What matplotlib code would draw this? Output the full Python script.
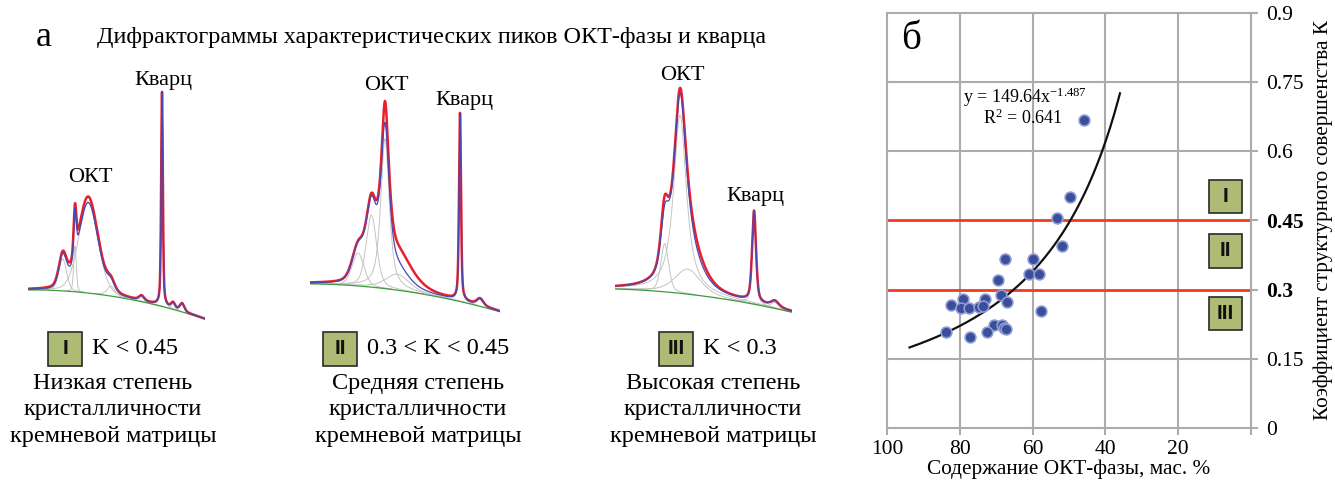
import numpy as np
import matplotlib
matplotlib.use('Agg')
import matplotlib.pyplot as plt
from matplotlib.patches import Rectangle

plt.rcParams['font.family'] = ['Liberation Serif', 'DejaVu Serif']
plt.rcParams['mathtext.fontset'] = 'custom'
plt.rcParams['mathtext.rm'] = 'Liberation Serif'
plt.rcParams['mathtext.it'] = 'Liberation Serif:italic'

# ---------------- data: panel б (scatter) ----------------
oct_content = [46.0, 49.7, 53.3, 51.8, 67.5, 59.9, 60.9, 58.2, 69.6, 68.7, 67.0,
               57.6, 79.0, 73.1, 82.4, 79.7, 77.5, 74.6, 73.7, 70.6, 68.4, 67.8,
               67.2, 72.5, 83.7, 77.3]
k_values = [0.668, 0.501, 0.455, 0.395, 0.367, 0.367, 0.334, 0.334, 0.322, 0.288,
            0.274, 0.254, 0.279, 0.279, 0.266, 0.261, 0.261, 0.262, 0.265, 0.224,
            0.224, 0.217, 0.215, 0.209, 0.209, 0.197]
fit_a = 149.64
fit_b = -1.487
fit_x_range = [93.8, 36.0]
k_limits = [0.3, 0.45]
x_ticks = [100, 80, 60, 40, 20, 0]
x_tick_labels = ['100', '80', '60', '40', '20', '']
y_ticks = [0, 0.15, 0.3, 0.45, 0.6, 0.75, 0.9]
y_tick_labels = ['0', '0.15', '0.3', '0.45', '0.6', '0.75', '0.9']
class_labels = ['I', 'II', 'III']
class_k_ranges = [(0.466, 0.538), (0.347, 0.421), (0.213, 0.284)]

# ---------------- data: panel а (diffractograms) ----------------
# peak position (deg 2theta), height above background, FWHM (deg), Lorentz fraction
d1_pos = [20.15, 20.95, 21.82, 23.3, 25.3, 26.64, 27.36, 27.95]
d1_height = [32, 46, 90, 10, 5, 214, 6, 8]
d1_fwhm = [0.6, 0.2, 1.5, 0.6, 0.4, 0.13, 0.3, 0.35]
d1_eta = [0.3, 0.3, 0.2, 0.5, 0.5, 0.5, 0.5, 0.5]
d1_base_x = [17.88, 19.45, 23.44, 26.05, 29.45]
d1_base_y = [31, 28, 25, 15, 1]
d1_extra = [(21.6, 6, 2.5)]

d2_pos = [20.06, 20.92, 21.8, 22.6, 26.64, 27.93]
d2_height = [33, 72, 150, 16, 187, 7]
d2_fwhm = [0.9, 0.8, 0.65, 1.8, 0.15, 0.5]
d2_eta = [0.3, 0.4, 0.7, 0.5, 0.5, 0.5]
d2_base_x = [16.96, 19.09, 23.4, 26.64, 29.22]
d2_base_y = [37, 34, 27, 21, 7]
d2_extra = [(22.9, 15, 2.2), (21.8, 14, 0.3)]

d3_pos = [20.8, 21.8, 22.3, 26.64, 28.0]
d3_height = [48, 178, 25, 91, 6]
d3_fwhm = [0.6, 1.0, 2.0, 0.3, 0.6]
d3_eta = [0.4, 0.9, 0.5, 0.5, 0.5]
d3_base_x = [17.55, 19.64, 24.28, 26.64, 29.12]
d3_base_y = [32, 28, 22, 17, 7]
d3_extra = [(22.6, 8, 2.0), (20.75, 8, 0.4)]

d_class = ['I', 'II', 'III']
d_condition = ['K < 0.45', '0.3 < K < 0.45', 'K < 0.3']
d_description = ['Низкая степень\nкристалличности\nкремневой матрицы',
                 'Средняя степень\nкристалличности\nкремневой матрицы',
                 'Высокая степень\nкристалличности\nкремневой матрицы']

# ---------------- figure ----------------
W, H = 1335, 484
fig = plt.figure(figsize=(W / 100, H / 100), dpi=100)


def fx(px):
    return px / W


def fy(py):
    return 1 - py / H


BOX_FACE = '#ADBB75'
BOX_EDGE = '#2a2a2a'


def pv(x, pos, h, fwhm, eta):
    hw = fwhm / 2.0
    lor = 1.0 / (1.0 + ((x - pos) / hw) ** 2)
    gau = np.exp(-np.log(2) * ((x - pos) / hw) ** 2)
    return h * (eta * lor + (1 - eta) * gau)


def diffractogram(box, xlim, pos, height, fwhm, eta, bx, by, extra, labels):
    ax = fig.add_axes([fx(box[0]), fy(box[3]), fx(box[1] - box[0]), (box[3] - box[2]) / H])
    ax.set_xlim(*xlim)
    ax.set_ylim(0, box[3] - box[2])
    ax.axis('off')
    x = np.linspace(xlim[0], xlim[1], 2000)
    coef = np.polyfit(bx, by, 2)
    base = np.polyval(coef, x)
    comps = [pv(x, p, h, w, e) for p, h, w, e in zip(pos, height, fwhm, eta)]
    fit = base + np.sum(comps, axis=0)
    obs = fit + np.sum([pv(x, p, h, w, 0.5) for p, h, w in extra], axis=0)
    for c in comps:
        m = np.ma.masked_where(c < 0.4, base + c)
        ax.plot(x, m, color='#C4C4C4', lw=0.7, zorder=1)
    ax.plot(x, base, color='#3E9A3A', lw=0.9, zorder=2)
    ax.plot(x, obs, color='#E8202C', lw=1.8, zorder=3)
    ax.plot(x, fit, color='#4A48B0', lw=0.9, zorder=4)
    for (tx, ty, s) in labels:
        ax.text(tx, ty, s, fontsize=16, ha='center', va='center', clip_on=False)
    return ax


diffractogram((28, 205, 60, 320), (17.88, 29.45), d1_pos, d1_height, d1_fwhm, d1_eta,
              d1_base_x, d1_base_y, d1_extra,
              [(21.93, 142, 'ОКТ'), (26.7, 240, 'Кварц')])
diffractogram((310, 500, 60, 320), (16.96, 29.22), d2_pos, d2_height, d2_fwhm, d2_eta,
              d2_base_x, d2_base_y, d2_extra,
              [(21.86, 235, 'ОКТ'), (26.9, 220, 'Кварц')])
diffractogram((615, 792, 60, 320), (17.55, 29.12), d3_pos, d3_height, d3_fwhm, d3_eta,
              d3_base_x, d3_base_y, d3_extra,
              [(21.93, 245, 'ОКТ'), (26.7, 123, 'Кварц')])

fig.text(fx(44), fy(37), 'а', fontsize=26, ha='center', va='center')
fig.text(fx(97), fy(38), 'Дифрактограммы характеристических пиков ОКТ-фазы и кварца',
         fontsize=17.4, ha='left', va='center')

# class boxes and descriptions under the diffractograms
box_left = [48, 323, 659]
desc_center = [113, 418, 713]
for bl, cls, cond, desc, dc in zip(box_left, d_class, d_condition, d_description, desc_center):
    fig.patches.append(Rectangle((fx(bl), fy(366)), fx(34), 34 / H, transform=fig.transFigure,
                                 facecolor=BOX_FACE, edgecolor=BOX_EDGE, lw=1.2))
    fig.text(fx(bl + 17), fy(349), cls, fontsize=15, fontweight='bold', ha='center', va='center',
             family='Liberation Sans', color='#111111')
    fig.text(fx(bl + 44), fy(349), cond, fontsize=17.5, ha='left', va='center')
    fig.text(fx(dc), fy(410), desc, fontsize=17.5, ha='center', va='center', linespacing=1.34)

# ---------------- panel б ----------------
ax = fig.add_axes([fx(887), fy(428), fx(1251 - 887), (428 - 13) / H])
ax.set_xlim(100, 0)
ax.set_ylim(0, 0.9)
grid_c = '#ABABAB'
for xv in x_ticks[1:-1]:
    ax.axvline(xv, color=grid_c, lw=1.5, zorder=1)
for yv in y_ticks[1:-1]:
    if yv in k_limits:
        ax.axhline(yv, color='#F03C24', lw=2.0, zorder=2)
    else:
        ax.axhline(yv, color=grid_c, lw=1.5, zorder=1)
for sp in ax.spines.values():
    sp.set_color(grid_c)
    sp.set_linewidth(1.5)
ax.set_xticks(x_ticks)
ax.set_xticklabels(x_tick_labels, fontsize=15.5)
ax.set_yticks(y_ticks)
ax.set_yticklabels(y_tick_labels, fontsize=15.5)
ax.yaxis.tick_right()
ax.yaxis.set_label_position('right')
ax.tick_params(axis='both', direction='out', length=5, width=1.5, color=grid_c)
ax.tick_params(axis='y', pad=6)
ax.tick_params(axis='x', pad=4)
for lab, v in zip(ax.get_yticklabels(), y_ticks):
    if v in k_limits:
        lab.set_fontweight('bold')
ax.set_xlabel('Содержание ОКТ-фазы, мас. %', fontsize=15.3)
ax.xaxis.set_label_coords(0.5, (428 - 469) / 415)
ax.xaxis.label.set_va('center')
ax.set_ylabel('Коэффициент структурного совершенства К', fontsize=15.3)
ax.yaxis.set_label_coords((1323 - 887) / (1251 - 887), 0.5)
ax.yaxis.label.set_va('center')

xf = np.linspace(fit_x_range[0], fit_x_range[1], 300)
ax.plot(xf, fit_a * xf ** fit_b, color='#111111', lw=1.6, zorder=3)
ax.scatter(oct_content, k_values, s=60, facecolor='#3B4E9E', edgecolor='#8E9BD0',
           linewidth=1.2, zorder=4)
ax.text(79.1, 0.718, 'y = 149.64x$^{\\mathregular{-1.487}}$', fontsize=13, ha='left', va='center')
ax.text(73.6, 0.672, 'R$^{\\mathregular{2}}$ = 0.641', fontsize=13, ha='left', va='center')
ax.text(93.4, 0.842, 'б', fontsize=28, ha='center', va='center')

for cls, (y0, y1) in zip(class_labels, class_k_ranges):
    ax.add_patch(Rectangle((11.5, y0), -9.0, y1 - y0, facecolor=BOX_FACE, edgecolor=BOX_EDGE,
                           lw=1.2, zorder=5))
    ax.text(7.0, (y0 + y1) / 2, cls, fontsize=15, fontweight='bold', ha='center', va='center',
            family='Liberation Sans', color='#111111', zorder=6)

fig.savefig('out.png', dpi=100)
